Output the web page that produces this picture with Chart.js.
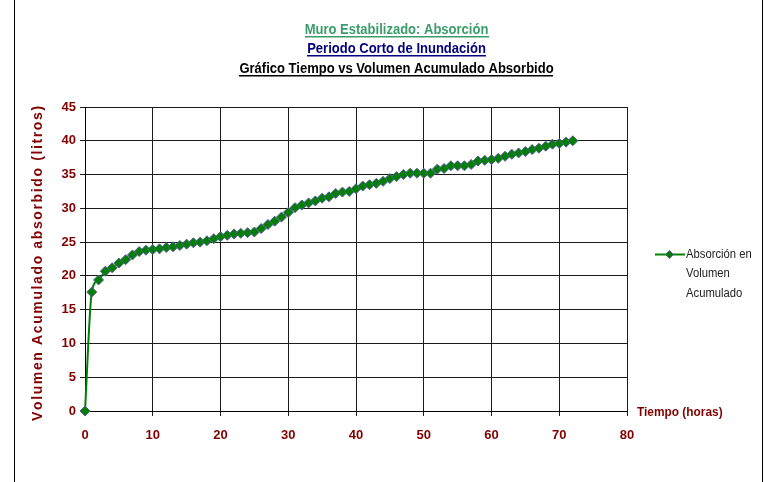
<!DOCTYPE html>
<html>
<head>
<meta charset="utf-8">
<script src="https://cdn.jsdelivr.net/npm/chart.js@4/dist/chart.umd.min.js"></script>
<style>
  html, body { margin: 0; padding: 0; background: #fff; }
  #wrap { width: 765px; height: 482px; position: relative; }
</style>
</head>
<body>
<div id="wrap"><canvas id="c" width="765" height="482"></canvas></div>
<script>
// Elapsed time since the start of flooding (hours)
const hours = [
  0, 1, 2, 3, 4, 5, 6, 7, 8, 9, 10, 11, 12, 13, 14, 15, 16, 17, 18, 19,
  20, 21, 22, 23, 24, 25, 26, 27, 28, 29, 30, 31, 32, 33, 34, 35, 36, 37, 38, 39,
  40, 41, 42, 43, 44, 45, 46, 47, 48, 49, 50, 51, 52, 53, 54, 55, 56, 57, 58, 59,
  60, 61, 62, 63, 64, 65, 66, 67, 68, 69, 70, 71, 72
];

// Cumulative volume absorbed by the wall (litres)
const volumeAbsorbed = [
  0.0, 17.6, 19.4, 20.7, 21.2, 21.9, 22.4, 23.1, 23.6, 23.8,
  23.9, 24.0, 24.2, 24.3, 24.5, 24.7, 24.9, 25.0, 25.2, 25.5,
  25.8, 26.0, 26.2, 26.3, 26.4, 26.5, 27.0, 27.6, 28.1, 28.7,
  29.4, 30.1, 30.5, 30.8, 31.1, 31.5, 31.7, 32.2, 32.4, 32.5,
  32.9, 33.3, 33.5, 33.7, 34.0, 34.4, 34.7, 35.0, 35.2, 35.2,
  35.2, 35.2, 35.8, 35.9, 36.3, 36.3, 36.3, 36.5, 37.0, 37.1,
  37.2, 37.4, 37.7, 38.0, 38.2, 38.4, 38.7, 38.9, 39.2, 39.5,
  39.6, 39.8, 40.0
];

const xTickValues = [0, 10, 20, 30, 40, 50, 60, 70, 80];
const yTickValues = [0, 5, 10, 15, 20, 25, 30, 35, 40, 45];

const titleLines = [
  'Muro Estabilizado: Absorción',
  'Periodo Corto de Inundación',
  'Gráfico Tiempo vs Volumen Acumulado Absorbido'
];
const seriesName = ['Absorción en', 'Volumen', 'Acumulado'];
const xAxisTitle = 'Tiempo (horas)';
const yAxisTitle = 'Volumen Acumulado absorbido (litros)';

const FONT = '"Liberation Sans", Arial, sans-serif';
const AXIS_RED = '#800000';
const SERIES_GREEN = '#008000';

// draws text squeezed horizontally by factor sx; returns the drawn width
function narrowText(ctx, text, x, y, sx, align) {
  const w = ctx.measureText(text).width * sx;
  let left = x;
  if (align === 'center') left = x - w / 2;
  else if (align === 'right') left = x - w;
  ctx.save();
  ctx.textAlign = 'left';
  ctx.translate(left, y);
  ctx.scale(sx, 1);
  ctx.fillText(text, 0, 0);
  ctx.restore();
  return { left, w };
}

const decor = {
  id: 'decor',
  beforeDraw(chart) {
    const ctx = chart.ctx;
    ctx.save();
    ctx.fillStyle = '#fff';
    ctx.fillRect(0, 0, chart.width, chart.height);
    ctx.restore();
  },
  afterDraw(chart) {
    const ctx = chart.ctx;
    const area = chart.chartArea;
    ctx.save();

    // outer frame
    ctx.strokeStyle = '#000';
    ctx.lineWidth = 1;
    ctx.beginPath();
    ctx.moveTo(14.5, 0); ctx.lineTo(14.5, chart.height);
    ctx.moveTo(762.5, 0); ctx.lineTo(762.5, chart.height);
    ctx.stroke();

    // underlined three-line heading
    const titleColors = ['#3a9d6b', '#000080', '#000000'];
    const baselines = [34, 53, 73];
    ctx.font = 'bold 14px ' + FONT;
    ctx.textBaseline = 'alphabetic';
    titleLines.forEach((t, i) => {
      ctx.fillStyle = titleColors[i];
      const r = narrowText(ctx, t, 396.5, baselines[i], 0.93, 'center');
      ctx.fillRect(Math.round(r.left), baselines[i] + 2, Math.round(r.w), 1.5);
    });

    // vertical axis title, spread to span the plot height
    ctx.save();
    ctx.font = 'bold 14px ' + FONT;
    ctx.fillStyle = AXIS_RED;
    ctx.translate(38, 264);
    ctx.rotate(-Math.PI / 2);
    ctx.textAlign = 'left';
    ctx.textBaseline = 'middle';
    const span = 314;
    const natural = ctx.measureText(yAxisTitle).width;
    const chars = Array.from(yAxisTitle);
    const gap = (span - natural) / (chars.length - 1);
    let px = -span / 2;
    chars.forEach(ch => {
      ctx.fillText(ch, px, 0);
      px += ctx.measureText(ch).width + gap;
    });
    ctx.restore();

    // horizontal axis title at the end of the axis
    ctx.font = 'bold 13.5px ' + FONT;
    ctx.fillStyle = AXIS_RED;
    ctx.textBaseline = 'middle';
    narrowText(ctx, xAxisTitle, area.right + 10, area.bottom + 1, 0.88, 'left');

    // legend
    const ly = 254.5;
    ctx.strokeStyle = SERIES_GREEN;
    ctx.lineWidth = 2;
    ctx.beginPath();
    ctx.moveTo(655, ly); ctx.lineTo(685, ly);
    ctx.stroke();
    ctx.fillStyle = SERIES_GREEN;
    ctx.strokeStyle = '#5a5aa0';
    ctx.lineWidth = 1;
    ctx.beginPath();
    ctx.moveTo(669.5, ly - 4); ctx.lineTo(673.5, ly); ctx.lineTo(669.5, ly + 4); ctx.lineTo(665.5, ly);
    ctx.closePath();
    ctx.fill(); ctx.stroke();
    ctx.font = '12.5px ' + FONT;
    ctx.fillStyle = '#222';
    ctx.textBaseline = 'middle';
    seriesName.forEach((s, i) => narrowText(ctx, s, 686, ly + i * 19.5, 0.9, 'left'));

    ctx.restore();
  }
};

const tickFont = { family: FONT, size: 13, weight: 'bold' };

new Chart(document.getElementById('c'), {
  type: 'line',
  data: {
    datasets: [{
      label: seriesName.join(' '),
      data: hours.map((h, i) => ({ x: h, y: volumeAbsorbed[i] })),
      borderColor: SERIES_GREEN,
      borderWidth: 2,
      cubicInterpolationMode: 'monotone',
      pointStyle: 'rectRot',
      pointRadius: 5,
      pointBackgroundColor: SERIES_GREEN,
      pointBorderColor: '#5a5aa0',
      pointBorderWidth: 1,
      clip: false
    }]
  },
  options: {
    responsive: false,
    animation: false,
    devicePixelRatio: 1,
    layout: { padding: { top: 107, right: 138, left: 0, bottom: 0 } },
    plugins: {
      legend: { display: false },
      title: { display: false },
      tooltip: { enabled: false }
    },
    scales: {
      x: {
        type: 'linear',
        min: 0,
        max: 80,
        afterFit(s) { s.height = 71; },
        afterBuildTicks(s) { s.ticks = xTickValues.map(v => ({ value: v })); },
        ticks: { color: AXIS_RED, font: tickFont, padding: 12, maxRotation: 0 },
        grid: { color: '#1a1a1a', lineWidth: 1, tickLength: 5 },
        border: { color: '#000', width: 1 }
      },
      y: {
        type: 'linear',
        min: 0,
        max: 45,
        afterFit(s) { s.width = 85; },
        afterBuildTicks(s) { s.ticks = yTickValues.map(v => ({ value: v })); },
        ticks: { color: AXIS_RED, font: tickFont, padding: 4 },
        grid: { color: '#1a1a1a', lineWidth: 1, tickLength: 5 },
        border: { color: '#000', width: 1 }
      }
    }
  },
  plugins: [decor]
});
</script>
</body>
</html>
